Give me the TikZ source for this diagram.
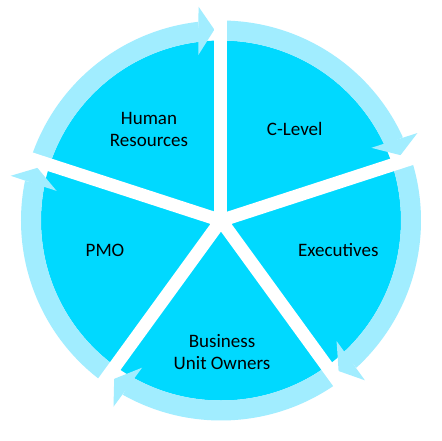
\documentclass[tikz,border=0pt]{standalone}
\usepackage{fontspec}
\setmainfont{Carlito}
\definecolor{wedgecol}{RGB}{0,217,255}
\definecolor{ringcol}{RGB}{161,237,255}
\begin{document}
\begin{tikzpicture}[x=1pt,y=1pt,
  lbl/.style={align=center,text=black,font=\fontsize{19}{22}\selectfont,inner sep=0pt},
  gapband/.style={white,line width=13pt}]
\useasboundingbox[fill=white] (-221,-219.5) rectangle (221,220.5);
% pie
\fill[wedgecol] (0,0) circle[radius=180];
% circular arrows (clockwise), one per segment: start angle / end angle
\foreach \s/\e in {90/18,18/-54,-54/-126,-126/-198,162/90}{
  \pgfmathsetmacro{\b}{\e+6.6}
  \fill[ringcol] (\s:200) arc[start angle=\s,end angle=\b,radius=200]
     -- (\b:180) arc[start angle=\b,end angle=\s,radius=180] -- cycle;
  \fill[ringcol] (\e+6:215) -- (\e+2:191) -- (\e+7.8:167) -- cycle;
}
% white gaps between segments
\foreach \a in {90,18,-54,-126,162}{
  \draw[gapband] (0,0) -- (\a:226);
}
\node[lbl] (hr)  at (-72,91.5) {Human\\Resources};
\node[lbl] (cl)  at (73.7,91.5) {C-Level};
\node[lbl] (ex)  at (117.3,-29) {Executives};
\node[lbl] (bu)  at (1,-132) {Business\\Unit Owners};
\node[lbl] (pmo) at (-116,-29.5) {PMO};
\end{tikzpicture}
\end{document}
